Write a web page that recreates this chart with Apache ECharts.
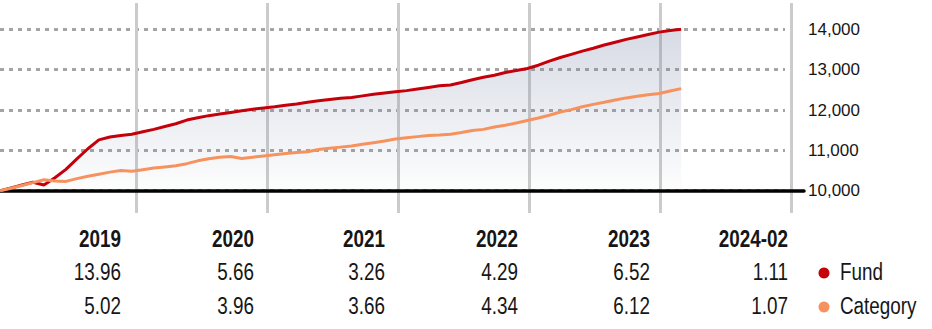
<!DOCTYPE html>
<html>
<head>
<meta charset="utf-8">
<script src="https://cdn.jsdelivr.net/npm/echarts@6/dist/echarts.min.js"></script>
<style>
  html, body { margin: 0; padding: 0; background: #ffffff; }
  #chart { width: 932px; height: 329px; }
</style>
</head>
<body>
<div id="chart"></div>
<script>
// Growth of 10,000 — month-end values, index 0 = start of 2019, last = Feb 2024
const fundGrowth = [
  10000, 10070, 10140, 10210, 10140, 10320, 10530, 10790, 11040, 11260, 11330, 11370, 11400,
  11460, 11520, 11590, 11660, 11750, 11810, 11860, 11900, 11940, 11980, 12020, 12050,
  12080, 12120, 12150, 12190, 12230, 12260, 12290, 12310, 12350, 12390, 12420, 12450,
  12480, 12520, 12560, 12600, 12620, 12680, 12750, 12810, 12860, 12930, 12980, 13030,
  13110, 13210, 13300, 13380, 13460, 13530, 13610, 13680, 13750, 13810, 13870, 13930,
  13970, 14000
];
const categoryGrowth = [
  10000, 10060, 10130, 10200, 10270, 10240, 10230, 10300, 10360, 10410, 10460, 10500, 10480,
  10520, 10560, 10590, 10620, 10670, 10740, 10790, 10830, 10850, 10800, 10830, 10860,
  10890, 10920, 10945, 10965, 11020, 11050, 11080, 11110, 11150, 11190, 11230, 11280,
  11310, 11340, 11370, 11380, 11400, 11440, 11490, 11520, 11580, 11620, 11680, 11740,
  11800, 11870, 11950, 12010, 12080, 12140, 12190, 12250, 12300, 12340, 12380, 12410,
  12470, 12530
];

// Calendar-year returns table
const periodLabels = ['2019', '2020', '2021', '2022', '2023', '2024-02'];
const fundReturns = ['13.96', '5.66', '3.26', '4.29', '6.52', '1.11'];
const categoryReturns = ['5.02', '3.96', '3.66', '4.34', '6.12', '1.07'];

const seriesNames = ['Fund', 'Category'];

// Layout of the returns table (right edge of each column, row centres) and key
const columnRight = [121, 254, 385, 518, 650, 788];
const rowCentre = [239, 272, 306];
const keyDotX = 824;
const keyTextX = 840;

const FUND_COLOR = '#c4000b';
const CAT_COLOR = '#f6925d';
const SERIES_COLORS = [FUND_COLOR, CAT_COLOR];
const SANS = 'Liberation Sans, Arial, sans-serif';
const CONDENSE = 0.82;   // horizontal squeeze for the narrow table lettering
const TEXT_COLOR = '#161616';

const chart = echarts.init(document.getElementById('chart'), null, { renderer: 'svg' });

function narrowText(text, x, y, align, weight) {
  return {
    type: 'text',
    x: x,
    y: y,
    scaleX: CONDENSE,
    silent: true,
    style: {
      text: text,
      fill: TEXT_COLOR,
      fontSize: 23,
      fontWeight: weight,
      fontFamily: SANS,
      align: align,
      verticalAlign: 'middle'
    }
  };
}

const tableText = [];
periodLabels.forEach((label, i) => {
  tableText.push(narrowText(label, columnRight[i], rowCentre[0], 'right', 'bold'));
  tableText.push(narrowText(fundReturns[i], columnRight[i], rowCentre[1], 'right', 'normal'));
  tableText.push(narrowText(categoryReturns[i], columnRight[i], rowCentre[2], 'right', 'normal'));
});

// Key beside the table rows
seriesNames.forEach((name, j) => {
  tableText.push({
    type: 'circle',
    silent: true,
    shape: { cx: keyDotX, cy: rowCentre[j + 1] + 1, r: 5.5 },
    style: { fill: SERIES_COLORS[j] }
  });
  tableText.push(narrowText(name, keyTextX, rowCentre[j + 1], 'left', 'normal'));
});

chart.setOption({
  animation: false,
  backgroundColor: '#ffffff',
  grid: [
    // year dividers
    { left: 136, top: 3, width: 655, height: 210 },
    // growth plot
    { left: 0, top: 29.3, width: 785, height: 161.4 },
    // baseline at 10,000
    { left: 0, top: 150, width: 804, height: 40.7 }
  ],
  xAxis: [
    {
      gridIndex: 0, type: 'value', min: 12, max: 72, interval: 12,
      axisLine: { show: false }, axisTick: { show: false }, axisLabel: { show: false },
      splitLine: { show: true, lineStyle: { color: '#cbcbcb', width: 3 } }
    },
    {
      gridIndex: 1, type: 'value', min: 0, max: 72 * 785 / 791,
      axisLine: { show: false }, axisTick: { show: false }, axisLabel: { show: false },
      splitLine: { show: false }
    },
    {
      gridIndex: 2, type: 'value', min: 0, max: 1,
      axisLine: { show: true, onZero: false, lineStyle: { color: '#000000', width: 3.5 } },
      axisTick: { show: false }, axisLabel: { show: false }, splitLine: { show: false }
    }
  ],
  yAxis: [
    { gridIndex: 0, type: 'value', show: false },
    {
      gridIndex: 1, type: 'value', position: 'right',
      min: 10000, max: 14000, interval: 1000,
      axisLine: { show: false }, axisTick: { show: false },
      axisLabel: {
        margin: 23, color: TEXT_COLOR, fontSize: 17,
        fontFamily: SANS,
        formatter: v => v.toLocaleString('en-US')
      },
      splitLine: { show: true, lineStyle: { color: '#a4a4a4', width: 3, type: [4, 5] } }
    },
    { gridIndex: 2, type: 'value', show: false }
  ],
  graphic: tableText,
  series: [
    {
      name: seriesNames[0], type: 'line', xAxisIndex: 1, yAxisIndex: 1,
      data: fundGrowth.map((v, i) => [i, v]),
      symbol: 'none', z: 3,
      lineStyle: { color: FUND_COLOR, width: 3 },
      itemStyle: { color: FUND_COLOR },
      areaStyle: {
        origin: 'start',
        color: new echarts.graphic.LinearGradient(0, 0, 0, 1, [
          { offset: 0, color: 'rgba(120,132,165,0.42)' },
          { offset: 1, color: 'rgba(120,132,165,0.02)' }
        ])
      }
    },
    {
      name: seriesNames[1], type: 'line', xAxisIndex: 1, yAxisIndex: 1,
      data: categoryGrowth.map((v, i) => [i, v]),
      symbol: 'none', z: 4,
      lineStyle: { color: CAT_COLOR, width: 3 },
      itemStyle: { color: CAT_COLOR }
    }
  ]
});
</script>
</body>
</html>
